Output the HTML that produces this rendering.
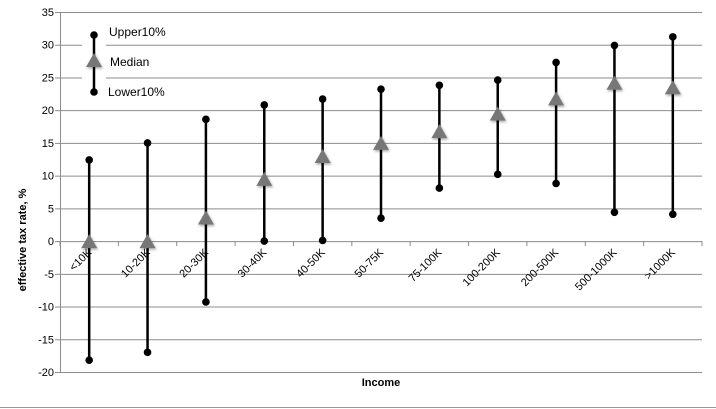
<!DOCTYPE html>
<html><head><meta charset="utf-8"><style>
html,body{margin:0;padding:0;background:#fff;}
svg{display:block;font-family:"Liberation Sans",sans-serif;}
</style></head><body>
<svg id="chart" width="716" height="409">
<defs><filter id="sh" x="-50%" y="-50%" width="200%" height="200%"><feDropShadow dx="1" dy="1.5" stdDeviation="1.2" flood-color="#000" flood-opacity="0.35"/></filter></defs>
<g id="grid"></g><g id="axes"></g><g id="marks"></g>
<g id="legend">
<rect x="82" y="26" width="24" height="72" fill="#fff"/>
<line x1="94" y1="35" x2="94" y2="92" stroke="#000" stroke-width="2.5"/>
<circle cx="94" cy="35" r="3.8" fill="#000"/>
<polygon points="94,53 102,67 86,67" fill="#777" filter="url(#sh)"/>
<circle cx="94" cy="92" r="3.8" fill="#000"/>
<text x="109" y="36" font-size="12" fill="#000">Upper10%</text>
<text x="110" y="66" font-size="12" fill="#000">Median</text>
<text x="108" y="96" font-size="12" fill="#000">Lower10%</text>
</g>
<text x="26" y="240" font-size="11" font-weight="bold" fill="#000" text-anchor="middle" transform="rotate(-90 26 240)">effective tax rate, %</text>
<text x="381" y="386" font-size="11" font-weight="bold" fill="#000" text-anchor="middle">Income</text>
<line x1="0" y1="407.5" x2="716" y2="407.5" stroke="#999" stroke-width="1"/>
</svg>
<script>
const categories=["<10K","10-20K","20-30K","30-40K","40-50K","50-75K","75-100K","100-200K","200-500K","500-1000K",">1000K"];
const upper=[12.4,15,18.6,20.8,21.7,23.2,23.8,24.6,27.3,29.9,31.2];
const median=[0,0,3.6,9.5,13,15,16.8,19.5,21.8,24.2,23.5];
const lower=[-18.2,-17,-9.3,0,0.1,3.5,8.1,10.2,8.8,4.4,4.1];
const yTicks=[35,30,25,20,15,10,5,0,-5,-10,-15,-20];
const NS="http://www.w3.org/2000/svg";
const L=60,R=702,T=12,B=372,ymin=-20,ymax=35;
const y=v=>T+(ymax-v)/(ymax-ymin)*(B-T);
const bw=(R-L)/categories.length;
const x=i=>L+bw*(i+0.5);
function mk(tag,attrs,parent,txt){const e=document.createElementNS(NS,tag);for(const k in attrs)e.setAttribute(k,attrs[k]);if(txt!==undefined)e.textContent=txt;document.getElementById(parent).appendChild(e);return e;}
yTicks.forEach(t=>{
 const g=mk('line',{x1:L,x2:R,y1:y(t)+0.5,y2:y(t)+0.5,stroke:'#8c8c8c','stroke-width':1},'grid');
 
 
 const tk=mk('line',{x1:L-5,x2:L,y1:y(t)+0.5,y2:y(t)+0.5,stroke:'#8c8c8c'},'axes');
 
 
 const lb=mk('text',{x:L-6,y:y(t)+4,'font-size':11,'text-anchor':'end',fill:'#000'},'axes',String(t));
 
 
});
const ya=mk('line',{x1:L+0.5,x2:L+0.5,y1:T,y2:B,stroke:'#8c8c8c'},'axes');


for(let i=0;i<=categories.length;i++){
 const t=mk('line',{x1:L+bw*i,x2:L+bw*i,y1:y(0),y2:y(0)+5,stroke:'#8c8c8c'},'axes');
 
 
}
categories.forEach((c,i)=>{
 const xx=x(i)+3,yy=y(0)+12;
 const lb=mk('text',{x:xx,y:yy,'font-size':11,'text-anchor':'end',fill:'#000',transform:`rotate(-45 ${xx} ${yy})`},'axes',c);
 
 
 const ln=mk('line',{x1:x(i),x2:x(i),y1:y(upper[i]),y2:y(lower[i]),stroke:'#000','stroke-width':2.5},'marks');
 
 
 const u=mk('circle',{cx:x(i),cy:y(upper[i]),r:3.8,fill:'#000'},'marks');
 
 
 const lo=mk('circle',{cx:x(i),cy:y(lower[i]),r:3.8,fill:'#000'},'marks');
 
 
 const my=y(median[i]);
 const m=mk('polygon',{points:`${x(i)},${my-7} ${x(i)+8},${my+7} ${x(i)-8},${my+7}`,fill:'#777',filter:'url(#sh)'},'marks');
 
 
});
</script>
</body></html>
